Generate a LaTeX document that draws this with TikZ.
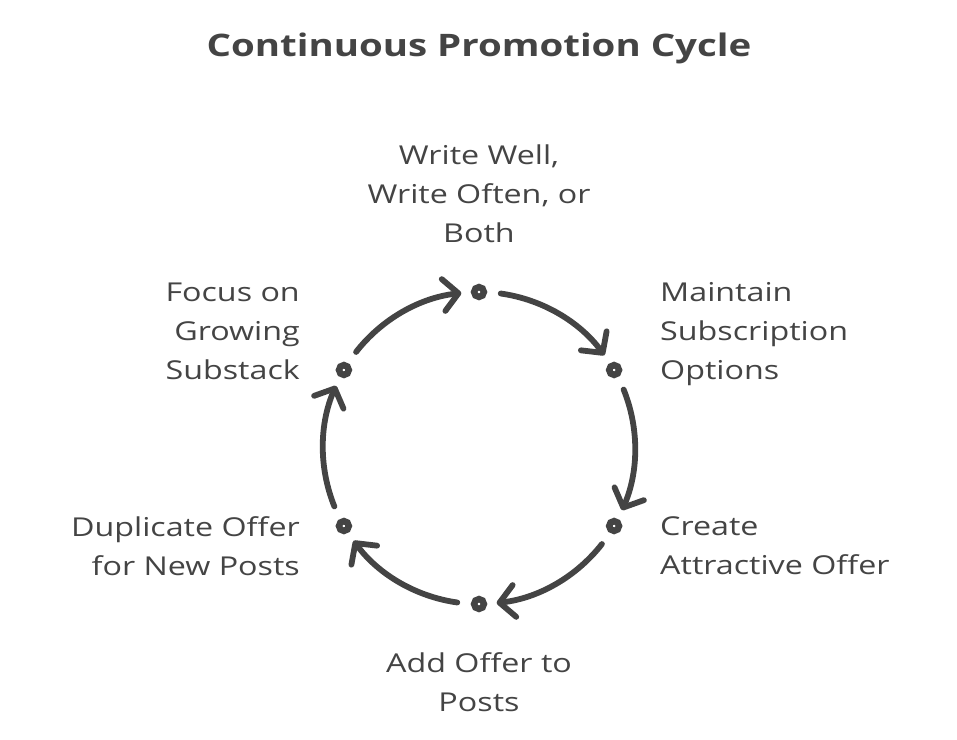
\documentclass[tikz,border=0pt]{standalone}
\usepackage{fontspec}
\setmainfont[FakeStretch=1.24]{Open Sans}
\usetikzlibrary{arrows.meta,calc}
\definecolor{ink}{RGB}{68,68,68}
\tikzset{
  lbl/.style={font=\fontsize{26}{39}\selectfont, text=ink, inner sep=0pt},
  dotmark/.style={circle, draw=ink, line width=6.5pt, minimum size=9.8pt, inner sep=0pt, fill=white},
  arr/.style={draw=ink, line width=5.8pt, line cap=round,
    -{Straight Barb[length=15pt,width=32pt,line cap=round,line join=round]}},
}
\begin{document}
\begin{tikzpicture}[x=1pt,y=1pt]
\useasboundingbox (0,0) rectangle (957,739);
\coordinate (c) at (479,291);
\node[font=\fontsize{31}{36}\selectfont\bfseries, text=ink] (title) at (479,691) {Continuous Promotion Cycle};
% dots
\node[dotmark] (d1) at ($(c)+(90:156pt)$) {};
\node[dotmark] (d2) at ($(c)+(30:156pt)$) {};
\node[dotmark] (d3) at ($(c)+(-30:156pt)$) {};
\node[dotmark] (d4) at ($(c)+(-90:156pt)$) {};
\node[dotmark] (d5) at ($(c)+(-150:156pt)$) {};
\node[dotmark] (d6) at ($(c)+(150:156pt)$) {};
% arc start points
\coordinate (s1) at ($(c)+(82:156pt)$);
\coordinate (s2) at ($(c)+(22:156pt)$);
\coordinate (s3) at ($(c)+(-38:156pt)$);
\coordinate (s4) at ($(c)+(-98:156pt)$);
\coordinate (s5) at ($(c)+(-158:156pt)$);
\coordinate (s6) at ($(c)+(142:156pt)$);
\draw[arr] (s1) arc[start angle=82, end angle=36.5, radius=156pt];
\draw[arr] (s2) arc[start angle=22, end angle=-23.5, radius=156pt];
\draw[arr] (s3) arc[start angle=-38, end angle=-83.5, radius=156pt];
\draw[arr] (s4) arc[start angle=-98, end angle=-143.5, radius=156pt];
\draw[arr] (s5) arc[start angle=-158, end angle=-203.5, radius=156pt];
\draw[arr] (s6) arc[start angle=142, end angle=96.5, radius=156pt];
% labels
\node[lbl, align=center] (l1) at (479,545) {Write Well,\\Write Often, or\\Both};
\node[lbl, align=left, anchor=west] (l2) at (660,405) {Maintain\\Subscription\\Options};
\node[lbl, align=left, anchor=west] (l3) at (660,193) {Create\\Attractive Offer};
\node[lbl, align=center] (l4) at (479,56.5) {Add Offer to\\Posts};
\node[lbl, align=right, anchor=east] (l5) at (300,193) {Duplicate Offer\\for New Posts};
\node[lbl, align=right, anchor=east] (l6) at (300,408) {Focus on\\Growing\\Substack};
\end{tikzpicture}
\end{document}
